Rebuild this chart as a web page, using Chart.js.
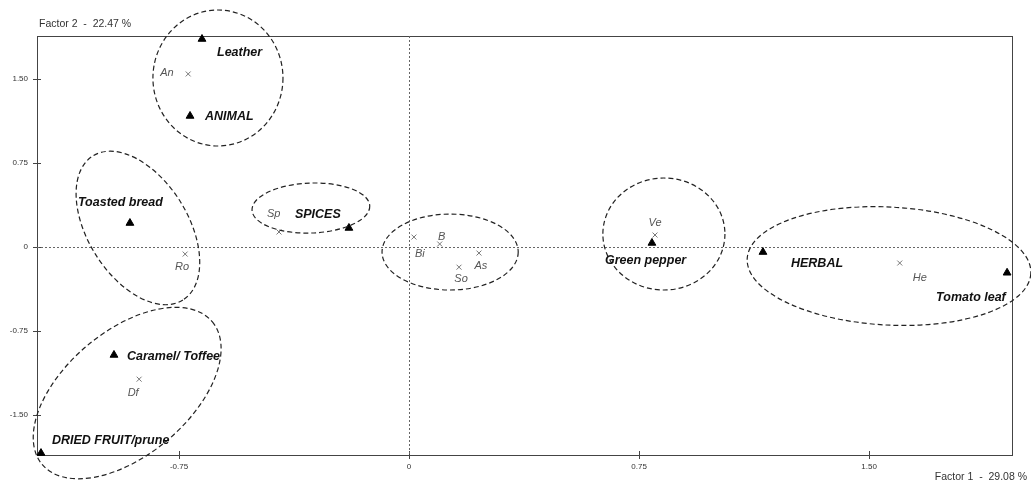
<!DOCTYPE html>
<html lang="en">
<head>
    <meta charset="UTF-8">
    <title>Correspondence map</title>
    <script src="https://cdn.jsdelivr.net/npm/chart.js"></script>
    <style>
        body { margin: 0; background: #fff; }
        .chart-container { width: 1031px; height: 489px; }
    </style>
</head>
<body>
    <div class="chart-container">
        <canvas id="caChart" width="1031" height="489"></canvas>
    </div>

    <script>
        // attributes (triangles)
        const attrNames = ['Leather', 'ANIMAL', 'Toasted bread', 'SPICES', 'Caramel/ Toffee', 'DRIED FRUIT/prune', 'Green pepper', 'HERBAL', 'Tomato leaf'];
        const attrF1 = [-0.675, -0.714, -0.91, -0.196, -0.962, -1.20, 0.792, 1.154, 1.95];
        const attrF2 = [1.857, 1.17, 0.214, 0.17, -0.964, -1.84, 0.036, -0.045, -0.23];

        // samples (crosses)
        const sampleNames = ['An', 'Sp', 'Ro', 'Df', 'Bi', 'B', 'As', 'So', 'Ve', 'He'];
        const sampleF1 = [-0.72, -0.424, -0.73, -0.88, 0.016, 0.10, 0.228, 0.163, 0.802, 1.60];
        const sampleF2 = [1.545, 0.134, -0.063, -1.18, 0.089, 0.027, -0.054, -0.18, 0.107, -0.143];

        const xTicks = [-0.75, 0, 0.75, 1.5];
        const yTicks = [-1.5, -0.75, 0, 0.75, 1.5];
        const xTitle = 'Factor 1  -  29.08 %';
        const yTitle = 'Factor 2  -  22.47 %';

        // label placement (pixel offsets from the point)
        const attrLabelPos = [
            [15, 14, 'left'], [15, 1, 'left'], [-52, -20, 'left'], [-54, -13, 'left'],
            [13, 2, 'left'], [11, -13, 'left'], [-47, 18, 'left'], [28, 11, 'left'], [-71, 25, 'left']
        ];
        const sampleLabelPos = [
            [-28, -1, 'left'], [-12, -18, 'left'], [-3, 13, 'center'], [-6, 14, 'center'],
            [1, 17, 'left'], [2, -7, 'center'], [2, 13, 'center'], [2, 12, 'center'], [0, -12, 'center'], [20, 15, 'center']
        ];

        // dashed groupings: centre in data units, radii in axis units, rotation in degrees
        const groups = [
            { cx: -0.623, cy: 1.509, rx: 0.212, ry: 0.607, rot: 0 },
            { cx: -0.884, cy: 0.170, rx: 0.277, ry: 0.446, rot: 58 },
            { cx: -0.320, cy: 0.348, rx: 0.192, ry: 0.223, rot: -2 },
            { cx: 0.134, cy: -0.045, rx: 0.222, ry: 0.339, rot: 0 },
            { cx: 0.831, cy: 0.116, rx: 0.199, ry: 0.500, rot: 0 },
            { cx: 1.565, cy: -0.170, rx: 0.463, ry: 0.527, rot: 3 },
            { cx: -0.919, cy: -1.304, rx: 0.362, ry: 0.554, rot: -40 }
        ];

        const FONT = '"Liberation Sans", Arial, sans-serif';

        const mapPlugin = {
            id: 'mapPlugin',
            beforeDatasetsDraw(chart) {
                const { ctx, chartArea: a, scales: { x, y } } = chart;
                ctx.save();
                // frame
                ctx.strokeStyle = '#444';
                ctx.lineWidth = 1;
                ctx.strokeRect(a.left + 0.5, a.top + 0.5, a.right - a.left, a.bottom - a.top);
                // inner half of the tick marks
                ctx.beginPath();
                xTicks.forEach(v => {
                    const px = Math.round(x.getPixelForValue(v)) + 0.5;
                    ctx.moveTo(px, a.bottom); ctx.lineTo(px, a.bottom - 4);
                });
                yTicks.forEach(v => {
                    const py = Math.round(y.getPixelForValue(v)) + 0.5;
                    ctx.moveTo(a.left, py); ctx.lineTo(a.left + 4, py);
                });
                ctx.stroke();
                // dotted origin lines
                ctx.strokeStyle = '#666';
                ctx.setLineDash([2, 2]);
                const x0 = Math.round(x.getPixelForValue(0)) + 0.5;
                const y0 = Math.round(y.getPixelForValue(0)) + 0.5;
                ctx.beginPath();
                ctx.moveTo(x0, a.top); ctx.lineTo(x0, a.bottom);
                ctx.moveTo(a.left, y0); ctx.lineTo(a.right, y0);
                ctx.stroke();
                ctx.restore();
            },
            afterDraw(chart) {
                const { ctx, scales: { x, y } } = chart;
                ctx.save();
                // ellipses
                ctx.strokeStyle = '#222';
                ctx.lineWidth = 1.2;
                ctx.setLineDash([5, 3]);
                groups.forEach(g => {
                    const px = x.getPixelForValue(g.cx);
                    const py = y.getPixelForValue(g.cy);
                    const rx = Math.abs(x.getPixelForValue(g.cx + g.rx) - px);
                    const ry = Math.abs(y.getPixelForValue(g.cy + g.ry) - py);
                    ctx.beginPath();
                    ctx.ellipse(px, py, rx, ry, g.rot * Math.PI / 180, 0, Math.PI * 2);
                    ctx.stroke();
                });
                ctx.setLineDash([]);

                // labels
                ctx.textBaseline = 'middle';
                ctx.fillStyle = '#111';
                ctx.font = 'italic bold 12.5px ' + FONT;
                attrNames.forEach((name, i) => {
                    const p = attrLabelPos[i];
                    ctx.textAlign = p[2];
                    ctx.fillText(name, x.getPixelForValue(attrF1[i]) + p[0], y.getPixelForValue(attrF2[i]) + p[1]);
                });
                ctx.fillStyle = '#555';
                ctx.font = 'italic 11px ' + FONT;
                sampleNames.forEach((name, i) => {
                    const p = sampleLabelPos[i];
                    ctx.textAlign = p[2];
                    ctx.fillText(name, x.getPixelForValue(sampleF1[i]) + p[0], y.getPixelForValue(sampleF2[i]) + p[1]);
                });

                // axis titles
                ctx.fillStyle = '#333';
                ctx.font = '10.5px ' + FONT;
                ctx.textAlign = 'left';
                ctx.fillText(yTitle, 39, 24);
                ctx.textAlign = 'right';
                ctx.fillText(xTitle, 1027, 477);
                ctx.restore();
            }
        };

        const ctx = document.getElementById('caChart').getContext('2d');
        const caChart = new Chart(ctx, {
            type: 'scatter',
            data: {
                datasets: [{
                    label: 'Attributes',
                    data: attrF1.map((v, i) => ({ x: v, y: attrF2[i] })),
                    pointStyle: 'triangle',
                    pointRadius: 4.5,
                    backgroundColor: '#000',
                    borderColor: '#000',
                    borderWidth: 1,
                    clip: false
                }, {
                    label: 'Samples',
                    data: sampleF1.map((v, i) => ({ x: v, y: sampleF2[i] })),
                    pointStyle: 'crossRot',
                    pointRadius: 3.5,
                    borderColor: '#777',
                    borderWidth: 1,
                    clip: false
                }]
            },
            options: {
                responsive: false,
                animation: false,
                layout: { padding: { top: 36, right: 19, left: 0, bottom: 0 } },
                plugins: {
                    legend: { display: false },
                    tooltip: { enabled: false }
                },
                scales: {
                    x: {
                        type: 'linear',
                        min: -1.213,
                        max: 1.966,
                        afterBuildTicks: s => { s.ticks = xTicks.map(v => ({ value: v })); },
                        afterFit: s => { s.height = 34; },
                        border: { display: false },
                        grid: { drawOnChartArea: false, drawTicks: true, tickLength: 4, color: '#444' },
                        ticks: {
                            padding: 3,
                            color: '#333',
                            font: { size: 8, family: FONT },
                            callback: v => v === 0 ? '0' : v.toFixed(2)
                        }
                    },
                    y: {
                        type: 'linear',
                        min: -1.857,
                        max: 1.884,
                        afterBuildTicks: s => { s.ticks = yTicks.map(v => ({ value: v })); },
                        afterFit: s => { s.width = 37; },
                        border: { display: false },
                        grid: { drawOnChartArea: false, drawTicks: true, tickLength: 4, color: '#444' },
                        ticks: {
                            padding: 5,
                            color: '#333',
                            font: { size: 8, family: FONT },
                            callback: v => v === 0 ? '0' : v.toFixed(2)
                        }
                    }
                }
            },
            plugins: [mapPlugin]
        });
    </script>
</body>
</html>
